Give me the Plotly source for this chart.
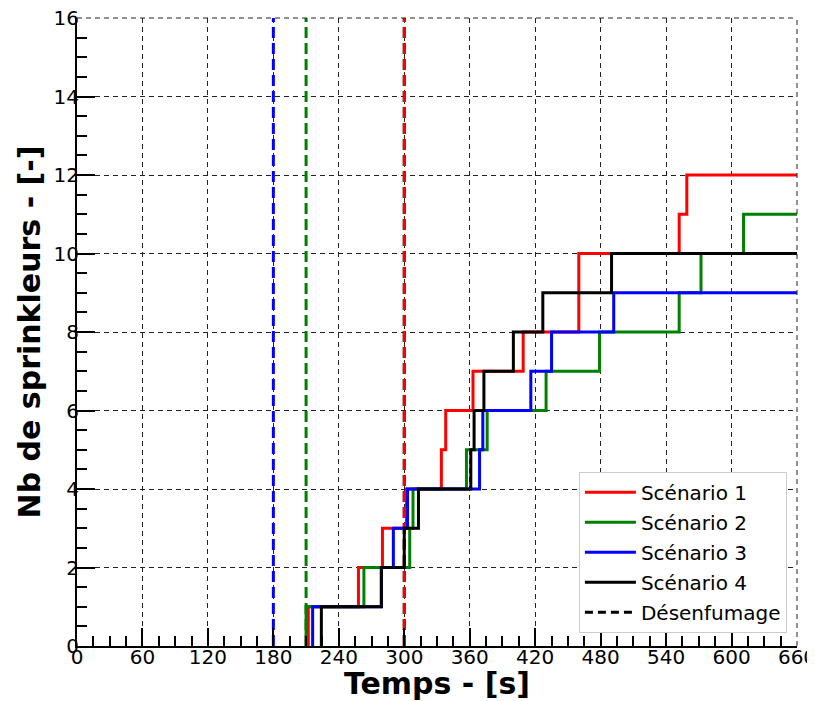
import plotly.graph_objects as go

# activation times (s) and sprinkler counts after each activation
s1_t = [212, 212, 258, 280, 302, 334, 338, 363, 409, 460, 552, 559, 660]
s1_n = [0, 1, 2, 3, 4, 5, 6, 7, 8, 10, 11, 12, 12]
s2_t = [210, 210, 263, 305, 308, 357, 376, 430, 479, 552, 572, 611, 660]
s2_n = [0, 1, 2, 3, 4, 5, 6, 7, 8, 9, 10, 11, 11]
s3_t = [216, 216, 279, 290, 303, 369, 372, 416, 435, 492, 660]
s3_n = [0, 1, 2, 3, 4, 5, 6, 7, 8, 9, 9]
s4_t = [224, 224, 279, 300, 313, 361, 364, 373, 400, 427, 490, 660]
s4_n = [0, 1, 2, 3, 4, 5, 6, 7, 8, 9, 10, 10]

# smoke extraction start time per scenario
smoke_t = {'Scénario 4': 300, 'Scénario 3': 180, 'Scénario 2': 210, 'Scénario 1': 300}
y_range = [0, 16]

colors = {'Scénario 1': 'red', 'Scénario 2': 'green',
          'Scénario 3': 'blue', 'Scénario 4': 'black'}
series = [('Scénario 1', s1_t, s1_n), ('Scénario 2', s2_t, s2_n),
          ('Scénario 3', s3_t, s3_n), ('Scénario 4', s4_t, s4_n)]

fig = go.Figure()

# vertical dashed lines (smoke extraction)
for name, t in smoke_t.items():
    fig.add_trace(go.Scatter(
        x=[t, t], y=y_range, mode='lines', showlegend=False,
        line=dict(color=colors[name], width=3, dash='11px,5px')
    ))

for name, t, n in series:
    fig.add_trace(go.Scatter(
        x=t, y=n, mode='lines', name=name, line_shape='hv', legendgroup=name,
        line=dict(color=colors[name], width=3)
    ))

# legend-only entry
fig.add_trace(go.Scatter(
    x=[None], y=[None], mode='lines', name='Désenfumage', legendgroup='d',
    line=dict(color='black', width=3, dash='8px,5px')
))

grid_color = '#222222'
axis_common = dict(
    showline=True, linecolor='black', linewidth=2, mirror=False,
    ticks='inside', tickcolor='black', tickwidth=2, ticklen=18,
    showgrid=True, gridcolor=grid_color, gridwidth=1, griddash='5px,4px',
    zeroline=False, tickfont=dict(size=20, color='black'), automargin=False,
    ticklabeloverflow='allow', ticklabelstandoff=-8,
)

fig.update_xaxes(
    range=[0, 660], dtick=60, tick0=0,
    minor=dict(dtick=15, ticks='inside', ticklen=10, tickwidth=1.5,
               tickcolor='black', showgrid=False),
    title=dict(text='<b>Temps - [s]</b>', font=dict(size=30, color='black'), standoff=8),
    **axis_common
)
fig.update_yaxes(
    range=y_range, dtick=2, tick0=0,
    minor=dict(dtick=0.5, ticks='inside', ticklen=10, tickwidth=1.5,
               tickcolor='black', showgrid=False),
    title=dict(text='<b>Nb de sprinkleurs - [-]</b>', font=dict(size=30, color='black'), standoff=4),
    **axis_common
)

# dashed top and right borders (grid lines at the range ends)
border = dict(color=grid_color, width=1, dash='5px,4px')
fig.add_shape(type='line', xref='x domain', yref='y domain',
              x0=0, x1=1, y0=1, y1=1, line=border)
fig.add_shape(type='line', xref='x domain', yref='y domain',
              x0=1, x1=1, y0=0, y1=1, line=border)

fig.update_layout(
    width=807, height=693,
    margin=dict(l=69, r=18, t=10, b=55),
    plot_bgcolor='white', paper_bgcolor='white',
    font=dict(family='DejaVu Sans', color='black'),
    legend=dict(
        x=0.986, y=0.021, xanchor='right', yanchor='bottom',
        bgcolor='white', bordercolor='#cccccc', borderwidth=1,
        font=dict(size=20), tracegroupgap=1, itemwidth=51,
    ),
)

fig.write_html("out.html")
